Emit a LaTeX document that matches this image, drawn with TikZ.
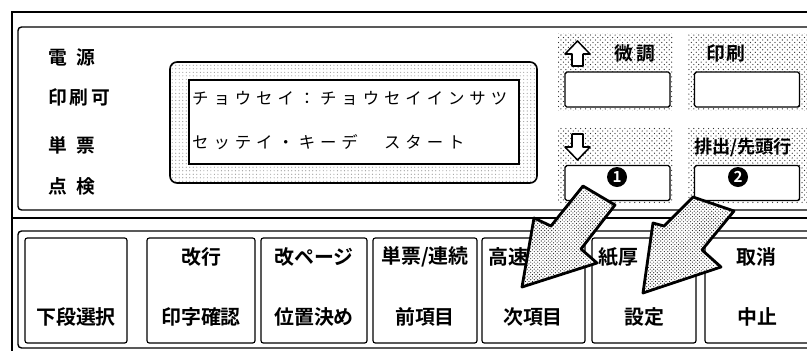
\documentclass[tikz,border=0pt]{standalone}
\usepackage{fontspec}
\setmainfont{Noto Sans CJK JP}[BoldFont=* Bold]
\newfontfamily\lcdfont{Noto Sans CJK JP}[LetterSpace=30]
\usetikzlibrary{patterns}

% sparse screen for the switch fields
\pgfdeclarepatternformonly{panel dots}{\pgfqpoint{-1pt}{-1pt}}{\pgfqpoint{5pt}{5pt}}{\pgfqpoint{4.2pt}{4.2pt}}{
  \pgfpathcircle{\pgfqpoint{0pt}{0pt}}{0.55pt}
  \pgfpathcircle{\pgfqpoint{2.1pt}{2.1pt}}{0.55pt}
  \pgfusepath{fill}
}

\begin{document}
\begin{tikzpicture}[x=0.03cm, y=-0.03cm,
  panel/.style={draw, line width=1.2pt, rounded corners=3pt},
  key/.style={draw, line width=1pt, rounded corners=2pt, minimum height=3.15cm, inner sep=0pt},
  keytext/.style={font=\fontsize{17}{17}\selectfont\bfseries, inner sep=0pt},
  lamp/.style={font=\fontsize{16}{16}\selectfont\bfseries, inner sep=0pt, anchor=west},
  lcdtext/.style={font=\lcdfont\fontsize{14}{14}\selectfont, inner sep=0pt, anchor=west},
  dotbox/.style={pattern=panel dots, pattern color=black!80},
  button/.style={draw, fill=white, line width=1.2pt, rounded corners=1.5pt, minimum width=3.15cm, minimum height=1.05cm},
  bigarrow/.style={line width=2.4pt, line join=round, preaction={fill=white}, pattern=crosshatch dots, pattern color=black!90},
  num/.style={circle, fill=black, text=white, inner sep=0pt, minimum size=0.6cm, font=\fontsize{13}{13}\selectfont\bfseries}]
\useasboundingbox (0,0) rectangle (807,350);
\fill[white] (0,0) rectangle (807,350);
\clip (0,0) rectangle (807,350);

% frame
\draw[line width=1.2pt] (12,352) -- (12,12) -- (830,12);
\draw[panel] (18,27) rectangle (830,210);
\draw[line width=1.2pt] (12,218) -- (830,218);
\draw[panel] (18,231) rectangle (830,348);

% lamps
\node[lamp] (power) at (48,57) {電\kern0.5em 源};
\node[lamp] (ready) at (48,97) {印\kern0.15em 刷\kern0.15em 可};
\node[lamp] (single) at (48,145) {単\kern0.5em 票};
\node[lamp] (check) at (48,186) {点\kern0.5em 検};

% display
\draw[line width=1.4pt, rounded corners=6pt, preaction={fill=white}, pattern=dots, pattern color=black!40] (170,62) rectangle (537,183);
\draw[line width=1.4pt, fill=white] (189,80) rectangle (519,164);
\node[lcdtext] (line1) at (192,98) {チョウセイ：チョウセイインサツ};
\node[lcdtext] (line2) at (192,142) {セッテイ・キーデ　スタート};

% panel switches
\fill[dotbox] (558,33) rectangle (673,110);
\fill[dotbox] (688,33) rectangle (830,110);
\fill[dotbox] (558,127) rectangle (673,203);
\fill[dotbox] (688,127) rectangle (830,203);
\draw[line width=1.3pt, fill=white, line join=round] (572,66) -- (583,66) -- (583,54) -- (590,54) -- (577.5,41) -- (565,54) -- (572,54) -- cycle;
\draw[line width=1.3pt, fill=white, line join=round] (572,134) -- (583,134) -- (583,147) -- (590,147) -- (577.5,160) -- (565,147) -- (572,147) -- cycle;
\node[lamp] (fine) at (614,53) {微\kern0.2em 調};
\node[lamp] (print) at (706,53) {印\kern0.1em 刷};
\node[lamp, font=\fontsize{15.5}{15.5}\selectfont\bfseries] (eject) at (694,147) {排出/先頭行};
\node[button] (bfine) at (617.5,89.5) {};
\node[button] (bprint) at (747,89.5) {};
\node[button] (bdown) at (617.5,183) {};
\node[button] (beject) at (747,183) {};
\node[num] (n1) at (617,177) {1};
\node[num] (n2) at (738,177) {2};

% keys
\node[key, minimum width=3.06cm] (k1) at (76,290.5) {};
\node[key, minimum width=3.24cm] (k2) at (201,290.5) {};
\node[key, minimum width=3.18cm] (k3) at (314,290.5) {};
\node[key, minimum width=3.12cm] (k4) at (425,290.5) {};
\node[key, minimum width=3.09cm] (k5) at (533.5,290.5) {};
\node[key, minimum width=3.12cm] (k6) at (644,290.5) {};
\node[key, minimum width=3.30cm] (k7) at (760,290.5) {};

\node[keytext] (t1b) at (76,317) {下段選択};
\node[keytext] (t2a) at (201,257) {改行};
\node[keytext] (t2b) at (201,317) {印字確認};
\node[keytext] (t3a) at (314,257) {改ページ};
\node[keytext] (t3b) at (314,317) {位置決め};
\node[keytext] (t4a) at (425,257) {単票/連続};
\node[keytext] (t4b) at (425,317) {前項目};
\node[keytext, anchor=west] (t5a) at (488,257) {高速};
\node[keytext] (t5b) at (533,317) {次項目};
\node[keytext, anchor=west] (t6a) at (598,257) {紙厚};
\node[keytext] (t6b) at (644,317) {設定};
\node[keytext] (t7a) at (756,257) {取消};
\node[keytext] (t7b) at (757,317) {中止};

% pointers
\draw[bigarrow] (522,287) -- (534,218) -- (551,226) -- (583,186) -- (615,205) -- (581,249) -- (597,263) -- cycle;
\draw[bigarrow] (643,293) -- (653,223) -- (664,226) -- (693,197) -- (734,211) -- (702,250) -- (721,267) -- cycle;
\end{tikzpicture}
\end{document}
